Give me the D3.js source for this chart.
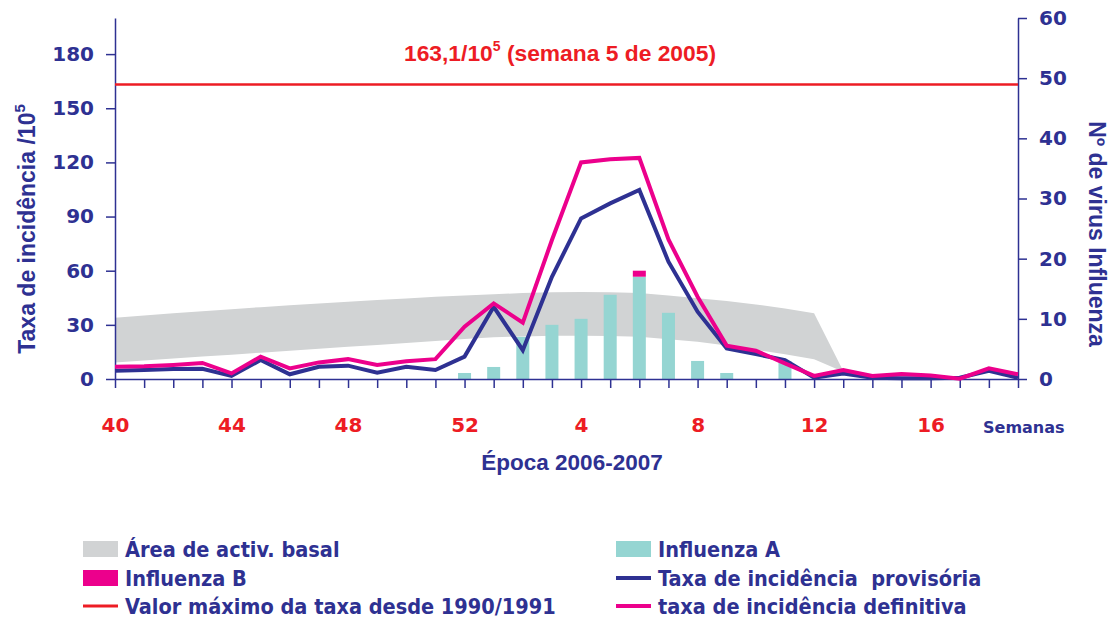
<!DOCTYPE html>
<meta charset="utf-8">
<style>
body { margin: 0; background: #fff; }
svg text { font-weight: bold; }
.tit { font-family: "Liberation Sans", Arial, sans-serif; fill: #2e3192; }
.leg text { font-family: "DejaVu Sans Condensed", "DejaVu Sans", sans-serif; font-stretch: condensed; font-size: 21.5px; fill: #2e3192; white-space: pre; }
</style>
<svg width="1115" height="619"></svg>
<script src="https://cdn.jsdelivr.net/npm/d3@7/dist/d3.min.js"></script>
<script>

var navy = "#2e3192", red = "#ed1c24", magenta = "#ec008c", cyan = "#95d5d2", grey = "#d1d3d4";

// weeks 40..52 of 2006, 1..19 of 2007
var weeks = [40,41,42,43,44,45,46,47,48,49,50,51,52,1,2,3,4,5,6,7,8,9,10,11,12,13,14,15,16,17,18,19];
var weekLabels = [40,44,48,52,4,8,12,16];

// taxa de incidência provisória
var provisoria = [4.6,5,5.5,5.7,1.7,10.5,2.6,6.8,7.4,3.5,6.8,5,12.4,40,16,56.6,89,97.3,104.7,65,37.3,17,13.8,10.5,0.7,3.1,0.7,0.4,0.4,0.7,4.6,0.7];
// taxa de incidência definitiva
var definitiva = [6.8,7,7.8,8.9,3.1,12.4,5.9,9.2,11,7.8,9.8,11,29,41.9,31.2,77,120,121.8,122.5,77.3,45.6,18.5,15.7,8.7,1.7,5,1.7,2.8,2,0.2,5.9,2.6];
// nº de virus
var influenzaA = [0,0,0,0,0,0,0,0,0,0,0,0,1,2,7,9,10,14,17,11,3,1,0,3,0,0,0,0,0,0,0,0];
var influenzaB = [0,0,0,0,0,0,0,0,0,0,0,0,0,0,0,0,0,0,1,0,0,0,0,0,0,0,0,0,0,0,0,0];
// área de actividade basal (weeks 40..13)
var basalHigh = [34.0,35.2,36.4,37.6,38.7,39.8,40.9,41.8,42.8,43.7,44.6,45.5,46.3,47.0,47.6,48.0,48.2,48.1,47.7,46.3,44.8,43.2,41.3,39.0,36.4,4.5];
var basalLow  = [9.2,10.3,11.4,12.4,13.5,14.6,15.6,16.7,17.8,18.9,19.9,21.0,22.1,23.1,23.6,24.0,24.0,23.8,23.4,22.0,20.6,18.5,16.2,13.7,10.9,4];

var maxTaxa = 163.1;

var svg = d3.select("svg");

var x = d3.scalePoint().domain(weeks).range([115, 1018]);
var yL = d3.scaleLinear().domain([0, 200]).range([379, 18]);
var yR = d3.scaleLinear().domain([0, 60]).range([379, 18]);

// basal area
var area = d3.area()
    .x(function(d, i) { return x(weeks[i]); })
    .y0(function(d, i) { return yL(basalLow[i]); })
    .y1(function(d) { return yL(d); });
svg.append("path").datum(basalHigh).attr("d", area).attr("fill", grey);

// virus bars
var bw = 13;
var bars = svg.append("g");
weeks.forEach(function(w, i) {
  if (influenzaA[i] > 0) {
    bars.append("rect").attr("x", x(w) - bw / 2).attr("width", bw)
      .attr("y", yR(influenzaA[i])).attr("height", yR(0) - yR(influenzaA[i]))
      .attr("fill", cyan);
  }
  if (influenzaB[i] > 0) {
    bars.append("rect").attr("x", x(w) - bw / 2).attr("width", bw)
      .attr("y", yR(influenzaA[i] + influenzaB[i])).attr("height", yR(influenzaA[i]) - yR(influenzaA[i] + influenzaB[i]))
      .attr("fill", magenta);
  }
});

// axes
var xAxis = svg.append("g").attr("transform", "translate(0,379)")
    .call(d3.axisBottom(x).tickSize(9).tickSizeOuter(0).tickPadding(30)
      .tickFormat(function(d) { return weekLabels.indexOf(d) >= 0 ? d : ""; }));
var yAxisL = svg.append("g").attr("transform", "translate(115,0)")
    .call(d3.axisLeft(yL).tickValues([0,30,60,90,120,150,180]).tickSize(9).tickSizeOuter(0).tickPadding(12));
var yAxisR = svg.append("g").attr("transform", "translate(1018,0)")
    .call(d3.axisRight(yR).tickValues([0,10,20,30,40,50,60]).tickSize(9).tickSizeOuter(0).tickPadding(12));

[xAxis, yAxisL, yAxisR].forEach(function(g) {
  g.attr("font-family", "'DejaVu Sans', sans-serif").attr("font-size", 20);
  g.selectAll("path, line").attr("stroke", navy).attr("stroke-width", 1.5);
  g.selectAll("text").attr("fill", navy);
});
xAxis.selectAll("text").attr("fill", red);

// lines
var line = d3.line()
    .x(function(d, i) { return x(weeks[i]); })
    .y(function(d) { return yL(d); });
svg.append("path").datum(provisoria).attr("d", line)
    .attr("fill", "none").attr("stroke", navy).attr("stroke-width", 4);
svg.append("path").datum(definitiva).attr("d", line)
    .attr("fill", "none").attr("stroke", magenta).attr("stroke-width", 4);

// maximum since 1990/1991
svg.append("line").attr("x1", 115).attr("x2", 1018)
    .attr("y1", yL(maxTaxa)).attr("y2", yL(maxTaxa))
    .attr("stroke", red).attr("stroke-width", 2.5);

var ann = svg.append("text").attr("class", "tit").attr("x", 560).attr("y", 61)
    .attr("text-anchor", "middle").attr("font-size", 22.8).style("fill", red);
ann.append("tspan").text("163,1/10");
ann.append("tspan").attr("dy", -10).attr("font-size", 14).text("5");
ann.append("tspan").attr("dy", 10).text(" (semana 5 de 2005)");

// axis titles
var tl = svg.append("text").attr("class", "tit").attr("font-size", 23)
    .attr("text-anchor", "middle")
    .attr("transform", "translate(35,229) rotate(-90)");
tl.append("tspan").text("Taxa de incidência /10");
tl.append("tspan").attr("dy", -10).attr("font-size", 15).text("5");

svg.append("text").attr("class", "tit").attr("font-size", 23)
    .attr("text-anchor", "middle")
    .attr("transform", "translate(1089,234) rotate(90)")
    .text("Nº de virus Influenza");

svg.append("text").attr("class", "tit").attr("font-size", 22.5)
    .attr("x", 572).attr("y", 470).attr("text-anchor", "middle")
    .text("Época 2006-2007");

svg.append("text").attr("font-family", "'DejaVu Sans', sans-serif").attr("font-size", 16)
    .attr("x", 983).attr("y", 433).attr("fill", navy)
    .text("Semanas");

// legend
var leg = svg.append("g").attr("class", "leg");
function legRect(x0, y0, c, label) {
  leg.append("rect").attr("x", x0).attr("y", y0 - 16).attr("width", 35).attr("height", 16).attr("fill", c);
  leg.append("text").attr("x", x0 + 42).attr("y", y0).text(label);
}
function legLine(x0, y0, c, w, label) {
  leg.append("line").attr("x1", x0).attr("x2", x0 + 35).attr("y1", y0 - 8).attr("y2", y0 - 8)
    .attr("stroke", c).attr("stroke-width", w);
  leg.append("text").attr("x", x0 + 42).attr("y", y0).text(label);
}
legRect(83, 557, grey, "Área de activ. basal");
legRect(616, 557, cyan, "Influenza A");
legRect(83, 586, magenta, "Influenza B");
legLine(616, 586, navy, 4, "Taxa de incidência  provisória");
legLine(83, 614, red, 3, "Valor máximo da taxa desde 1990/1991");
legLine(616, 614, magenta, 4, "taxa de incidência definitiva");

</script>
